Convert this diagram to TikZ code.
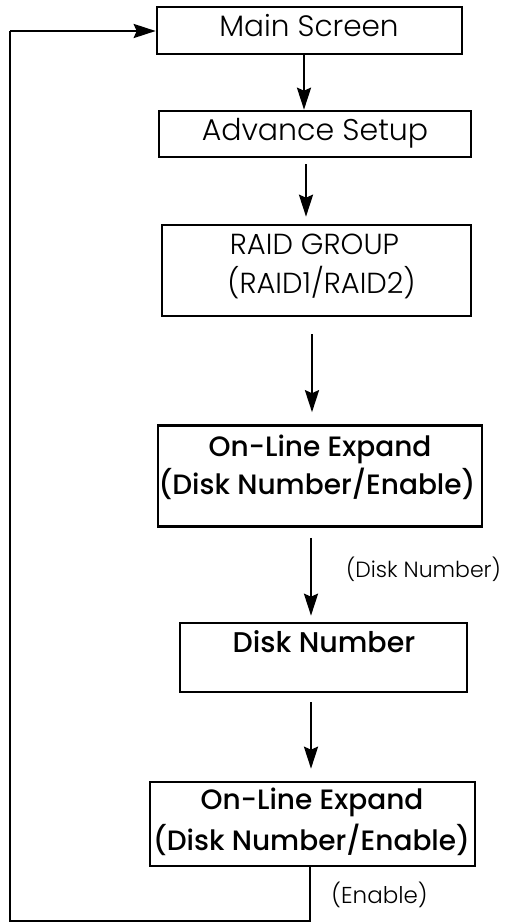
\documentclass[tikz,border=0pt]{standalone}
\usepackage{fontspec}
\setmainfont{Poppins}
\newfontfamily\thinfont{Poppins Light}
\newfontfamily\medfont{Poppins Medium}
\usetikzlibrary{arrows.meta}
\begin{document}
\begin{tikzpicture}[x=1pt,y=-1pt,
  box/.style={draw,line width=2.6pt,rectangle,inner sep=0pt},
  txt/.style={anchor=base,inner sep=0pt},
  arr/.style={line width=2.6pt,-{Stealth[length=22pt,width=14pt,inset=3pt]}},
  ln/.style={line width=2.6pt}]
\useasboundingbox (0,0) rectangle (510,923);
% boxes
\node[box,minimum width=305pt,minimum height=47pt] (main) at (309.5,30.5) {};
\node[box,minimum width=312pt,minimum height=46pt] (adv) at (315,134) {};
\node[box,minimum width=309pt,minimum height=91pt] (raid) at (316.5,270.5) {};
\node[box,minimum width=324pt,minimum height=101pt] (ol1) at (320,476) {};
\node[box,minimum width=287pt,minimum height=69pt] (dn) at (323.5,657.5) {};
\node[box,minimum width=325pt,minimum height=84pt] (ol2) at (312.5,824) {};
% texts
\node[txt,font=\thinfont\fontsize{29.5}{30}\selectfont] (tmain) at (309,37) {Main Screen};
\node[txt,font=\thinfont\fontsize{30}{30}\selectfont] (tadv) at (315,140) {Advance Setup};
\node[txt,font=\thinfont\fontsize{29}{29}\selectfont] (traid1) at (314.5,254) {RAID GROUP};
\node[txt,font=\thinfont\fontsize{29}{29}\selectfont] (traid2) at (321.5,293) {(RAID1/RAID2)};
\node[txt,font=\medfont\fontsize{28}{28}\selectfont] (tol1a) at (320,456) {On-Line Expand};
\node[txt,font=\medfont\fontsize{28}{28}\selectfont] (tol1b) at (317,494) {(Disk Number/Enable)};
\node[txt,font=\medfont\fontsize{28.5}{28.5}\selectfont] (tdn) at (324,652) {Disk Number};
\node[txt,font=\medfont\fontsize{28}{28}\selectfont] (tol2a) at (312,809) {On-Line Expand};
\node[txt,font=\medfont\fontsize{28}{28}\selectfont] (tol2b) at (311.5,850) {(Disk Number/Enable)};
\node[txt,font=\thinfont\fontsize{22}{22}\selectfont] (ldn) at (423.5,577) {(Disk Number)};
\node[txt,font=\thinfont\fontsize{23}{23}\selectfont] (len) at (379.5,903) {(Enable)};
% connectors
\draw[arr] (main.south -| 304,0) -- (adv.north -| 304,0);
\draw[arr] ([yshift=-6pt]adv.south -| 306,0) -- ([yshift=7pt]raid.north -| 306,0);
\draw[arr] ([yshift=-17pt]raid.south -| 312,0) -- ([yshift=12pt]ol1.north -| 312,0);
\draw[arr] ([yshift=-10pt]ol1.south -| 311,0) -- ([yshift=6pt]dn.north -| 311,0);
\draw[arr] ([yshift=-9pt]dn.south -| 311,0) -- ([yshift=12pt]ol2.north -| 311,0);
\coordinate (c1) at (310,921);
\coordinate (c2) at (10,921);
\coordinate (c3) at (10,31);
\draw[ln] (ol2.south -| c1) -- (c1) -- (c2) -- (c3);
\draw[arr] (c3) -- (main.west |- c3);
\end{tikzpicture}
\end{document}
